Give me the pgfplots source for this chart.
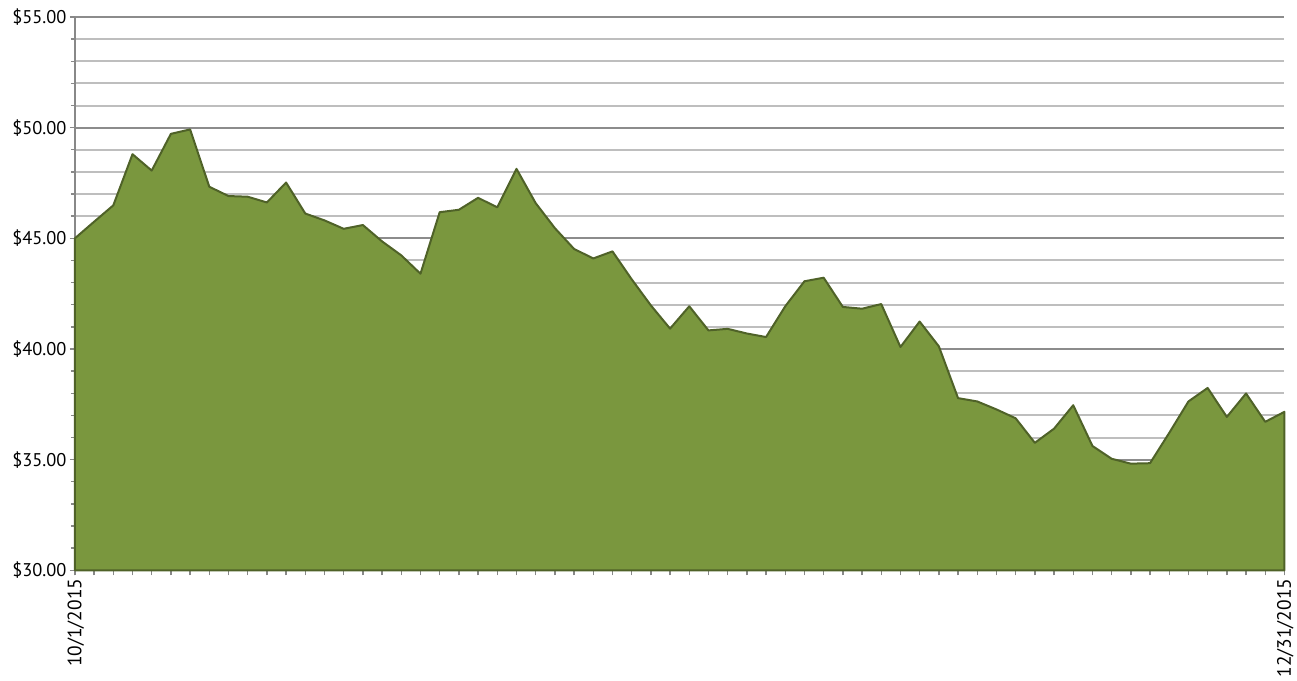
\documentclass[border=0pt]{standalone}
\usepackage{pgfplots}
\pgfplotsset{compat=1.18}
\usepackage{fontspec}
\setmainfont{PT Sans}
\definecolor{areafill}{RGB}{122,151,62}
\definecolor{areaedge}{RGB}{79,98,40}
\definecolor{majgrid}{RGB}{140,140,140}
\definecolor{mingrid}{RGB}{190,190,190}
\definecolor{axisgray}{RGB}{136,136,136}
\begin{document}
\begin{tikzpicture}
\path (-75bp,-106bp) rectangle (1222bp,571bp);
\begin{axis}[
  at={(0,0)}, anchor=south west,
  scale only axis, width=1211bp, height=554bp,
  xmin=0, xmax=63, ymin=30, ymax=55,
  axis x line*=bottom, axis y line*=left,
  axis line style={draw=axisgray, line width=1.4bp},
  ytick={30,35,40,45,50,55},
  minor ytick={31,32,33,34,36,37,38,39,41,42,43,44,46,47,48,49,51,52,53,54},
  ymajorgrids, yminorgrids,
  major grid style={draw=majgrid, line width=2bp},
  minor grid style={draw=mingrid, line width=2bp},
  yticklabel={\$\pgfmathprintnumber[fixed,fixed zerofill,precision=2,assume math mode=true]{\tick}},
  xtick={0,...,63},
  xticklabels={},
  extra x ticks={0,63},
  extra x tick labels={10/1/2015,12/31/2015},
  extra x tick style={grid=none, tick label style={rotate=90, anchor=east, font=\fontsize{19.5}{21}\selectfont, yshift=-1bp}},
  tick align=outside,
  major tick length=5bp, minor tick length=4bp,
  tick style={draw=axisgray, line width=1.4bp},
  ticklabel style={font=\fontsize{18.5}{20}\selectfont, text=black},
  clip=false,
]
\addplot[fill=areafill, draw=areaedge, line width=2bp, line join=round] coordinates {
(0,45.00) (1,45.75) (2,46.49) (3,48.80) (4,48.06) (5,49.72) (6,49.92) (7,47.33)
(8,46.91) (9,46.88) (10,46.62) (11,47.52) (12,46.12) (13,45.81) (14,45.43) (15,45.60)
(16,44.86) (17,44.23) (18,43.40) (19,46.18) (20,46.29) (21,46.83) (22,46.40) (23,48.14)
(24,46.59) (25,45.46) (26,44.52) (27,44.09) (28,44.41) (29,43.15) (30,41.97) (31,40.92)
(32,41.93) (33,40.84) (34,40.91) (35,40.70) (36,40.54) (37,41.93) (38,43.06) (39,43.22)
(40,41.90) (41,41.82) (42,42.03) (43,40.09) (44,41.24) (45,40.12) (46,37.78) (47,37.63)
(48,37.27) (49,36.87) (50,35.76) (51,36.40) (52,37.46) (53,35.62) (54,35.04) (55,34.82)
(56,34.84) (57,36.21) (58,37.63) (59,38.24) (60,36.93) (61,37.99) (62,36.71) (63,37.16)
} \closedcycle;
\end{axis}
\end{tikzpicture}
\end{document}
